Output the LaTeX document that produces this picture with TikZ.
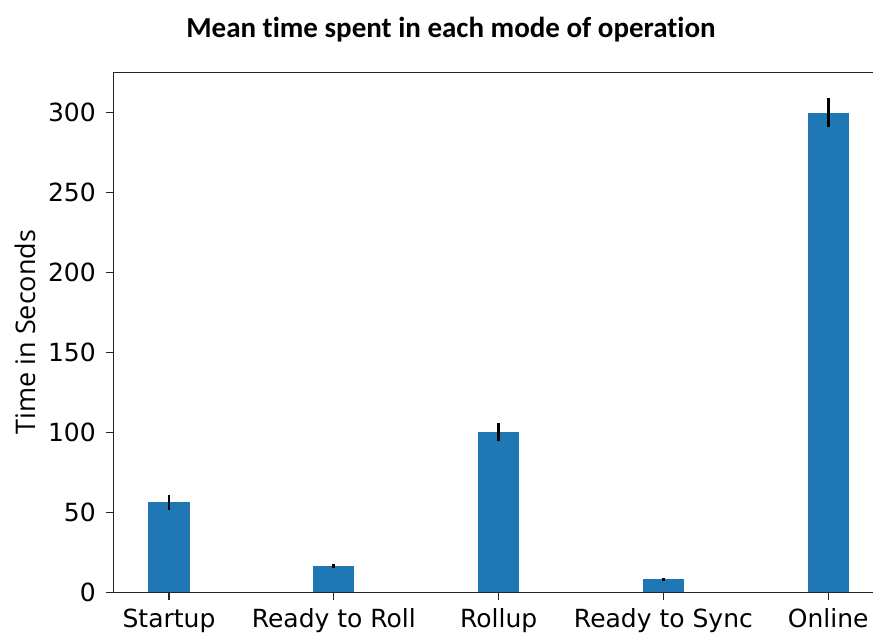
\documentclass[tikz,border=0pt]{standalone}
\usepackage{fontspec}
\setmainfont{DejaVu Sans}
\newfontfamily\titlefont[Ligatures=NoCommon]{Carlito}
\newfontfamily\labelfont{Open Sans}
\definecolor{barblue}{HTML}{1F77B4}
\begin{document}
\begin{tikzpicture}[x=1pt,y=-1pt,
  barbox/.style={fill=barblue,draw=none},
  errbar/.style={line width=2.8pt,black},
  spine/.style={line width=1.3pt,black!85},
  tickmark/.style={line width=1.1pt,black!85},
  ticklabel/.style={font=\fontsize{25}{25}\selectfont,inner sep=0pt}]
\useasboundingbox (0,0) rectangle (873,633);
\fill[white] (0,0) rectangle (873,633);
% bars
\foreach \i/\v/\e in {0/56.3/4.6, 1/16.4/1.3, 2/100.2/5.6, 3/8.1/0.8, 4/300/9.1}{
  \pgfmathsetmacro{\xc}{169+164.8*\i}
  \pgfmathsetmacro{\yt}{592.3-1.599*\v}
  \pgfmathsetmacro{\ya}{592.3-1.599*(\v+\e)}
  \pgfmathsetmacro{\yb}{592.3-1.599*(\v-\e)}
  \fill[barbox] (\xc-20.6,592.3) rectangle (\xc+20.6,\yt);
  \draw[errbar] (\xc,\ya) -- (\xc,\yb);
}
% spines
\draw[spine] (113.3,592.3) -- (113.3,72.7) -- (873,72.7);
\draw[spine] (113.3,592.3) -- (873,592.3);
% y ticks
\foreach \v in {0,50,...,300}{
  \pgfmathsetmacro{\yy}{592.3-1.599*\v}
  \draw[tickmark] (106,\yy) -- (113.3,\yy);
  \node[ticklabel,anchor=east] (yl\v) at (96,\yy) {\v};
}
% x ticks
\foreach \i/\t in {0/Startup,1/Ready to Roll,2/Rollup,3/Ready to Sync,4/Online}{
  \pgfmathsetmacro{\xc}{169+164.8*\i}
  \draw[tickmark] (\xc,592.3) -- (\xc,599.6);
  \node[ticklabel,anchor=base] (xl\i) at (\xc,627) {\t};
}
\node[font=\labelfont\fontsize{27}{27}\selectfont,rotate=90,inner sep=0pt] (ylab) at (25,332) {Time in Seconds};
\node[font=\titlefont\bfseries\fontsize{29}{29}\selectfont,anchor=base,inner sep=0pt] (title) at (451,37) {Mean time spent in each mode of operation};
\end{tikzpicture}
\end{document}
